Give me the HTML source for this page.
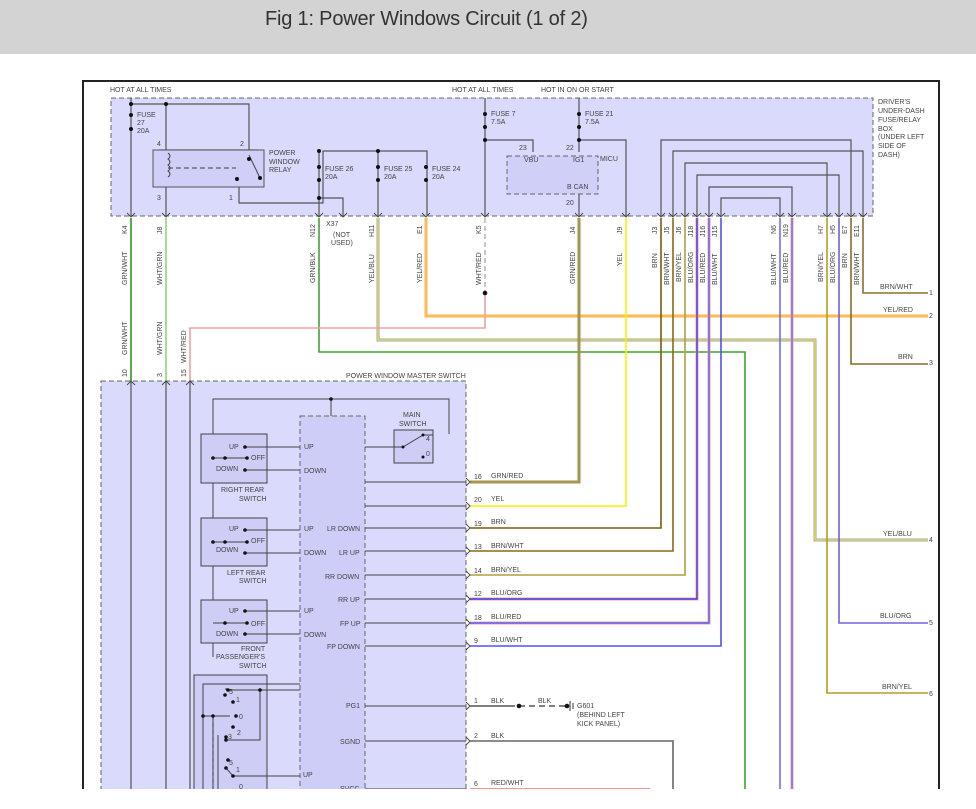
<!DOCTYPE html>
<html><head><meta charset="utf-8"><style>
html,body{margin:0;padding:0;background:#fff;width:976px;height:809px;overflow:hidden}
.hdr{position:absolute;left:0;top:0;width:976px;height:54px;background:#d3d3d3}
.ttl{position:absolute;left:265px;top:8px;font:20px "Liberation Sans",sans-serif;color:#333;letter-spacing:-0.2px}
svg{position:absolute;left:0;top:0}
text{font-family:"Liberation Sans",sans-serif;font-size:7px;fill:#444}
</style></head><body>
<div class="hdr"></div><div class="ttl">Fig 1: Power Windows Circuit (1 of 2)</div>
<svg width="976" height="809" viewBox="0 0 976 809">
<defs><clipPath id="c"><rect x="0" y="0" width="976" height="789"/></clipPath></defs>
<g clip-path="url(#c)">
<rect x="83" y="81" width="856" height="760" fill="none" stroke="#222" stroke-width="2"/>
<rect x="111" y="98" width="762" height="118" fill="#dadafc" stroke="#666" stroke-dasharray="5,3"/>
<text x="110" y="92">HOT AT ALL TIMES</text>
<text x="452" y="92">HOT AT ALL TIMES</text>
<text x="541" y="92">HOT IN ON OR START</text>
<g>
<text x="878" y="104">DRIVER'S</text><text x="878" y="113">UNDER-DASH</text><text x="878" y="122">FUSE/RELAY</text><text x="878" y="131">BOX</text><text x="878" y="139">(UNDER LEFT</text><text x="878" y="148">SIDE OF</text><text x="878" y="157">DASH)</text>
</g>
<g stroke="#555" fill="none" stroke-width="1.2">
<path d="M131 98V216M131 104H249V150M166 104V150M166 187V216"/>
<path d="M159 150h98M239 187v16h84V151h104v65M319 151v65M319 198h24v18M378 151v65"/>
<path d="M485 98V216M485 140h48v12M579 98V152M579 140h47v76M579 194v22"/>
<path d="M661 216V140H851V216M673 216V151H863V216M685 216V163H827V216M697 216V175H839V216M709 216V187H792V216M721 216V198H780V216"/>
</g>
<rect x="153" y="150" width="111" height="37" fill="#cfcff8" stroke="#555"/>
<path d="M168 168 H236" stroke="#444" stroke-dasharray="5,3" fill="none"/>
<path d="M168 153 q4 3 0 6 q4 3 0 6 q4 3 0 6 q4 3 0 6" stroke="#444" fill="none"/>
<path d="M249 155 L260 178" stroke="#444"/>
<g fill="#111"><circle cx="131" cy="104" r="2"/><circle cx="166" cy="104" r="2"/><circle cx="249" cy="159" r="2"/><circle cx="260" cy="178" r="2"/><circle cx="237" cy="179" r="2"/><circle cx="319" cy="151" r="2"/><circle cx="378" cy="151" r="2"/><circle cx="319" cy="198" r="2"/><circle cx="485" cy="140" r="2"/><circle cx="579" cy="140" r="2"/><circle cx="131" cy="115" r="2"/><circle cx="131" cy="129" r="2"/><circle cx="485" cy="114" r="2"/><circle cx="485" cy="127" r="2"/><circle cx="579" cy="114" r="2"/><circle cx="579" cy="127" r="2"/><circle cx="319" cy="167" r="2"/><circle cx="319" cy="180" r="2"/><circle cx="378" cy="167" r="2"/><circle cx="378" cy="180" r="2"/><circle cx="426" cy="167" r="2"/><circle cx="426" cy="180" r="2"/></g>
<text x="137" y="117">FUSE</text><text x="137" y="125">27</text><text x="137" y="133">20A</text>
<text x="157" y="146">4</text><text x="240" y="146">2</text><text x="157" y="200">3</text><text x="229" y="200">1</text>
<text x="269" y="155">POWER</text><text x="269" y="164">WINDOW</text><text x="269" y="172">RELAY</text>
<text x="325" y="171">FUSE 26</text><text x="325" y="179">20A</text>
<text x="384" y="171">FUSE 25</text><text x="384" y="179">20A</text>
<text x="432" y="171">FUSE 24</text><text x="432" y="179">20A</text>
<text x="491" y="116">FUSE 7</text><text x="491" y="124">7.5A</text>
<text x="585" y="116">FUSE 21</text><text x="585" y="124">7.5A</text>
<rect x="507" y="156" width="91" height="38" fill="#cfcff8" stroke="#666" stroke-dasharray="5,3"/>
<text x="519" y="150">23</text><text x="566" y="150">22</text><text x="524" y="162">VBU</text><text x="573" y="162">IG1</text><text x="600" y="161">MICU</text><text x="567" y="189">B CAN</text><text x="566" y="205">20</text>
<text x="326" y="226">X37</text><text x="333" y="237">(NOT</text><text x="331" y="245">USED)</text>
<g>
<text transform="translate(127,234) rotate(-90)">K4</text>
<text transform="translate(162,234) rotate(-90)">J8</text>
<text transform="translate(315,237) rotate(-90)">N12</text>
<text transform="translate(374,237) rotate(-90)">H11</text>
<text transform="translate(422,234) rotate(-90)">E1</text>
<text transform="translate(481,234) rotate(-90)">K5</text>
<text transform="translate(575,234) rotate(-90)">J4</text>
<text transform="translate(622,234) rotate(-90)">J9</text>
<text transform="translate(657,234) rotate(-90)">J3</text>
<text transform="translate(669,234) rotate(-90)">J5</text>
<text transform="translate(681,234) rotate(-90)">J6</text>
<text transform="translate(693,237) rotate(-90)">J18</text>
<text transform="translate(705,237) rotate(-90)">J16</text>
<text transform="translate(717,237) rotate(-90)">J15</text>
<text transform="translate(776,234) rotate(-90)">N6</text>
<text transform="translate(788,237) rotate(-90)">N19</text>
<text transform="translate(823,234) rotate(-90)">H7</text>
<text transform="translate(835,234) rotate(-90)">H5</text>
<text transform="translate(847,234) rotate(-90)">E7</text>
<text transform="translate(859,237) rotate(-90)">E11</text>
<text transform="translate(127,285) rotate(-90)">GRN/WHT</text>
<text transform="translate(162,285) rotate(-90)">WHT/GRN</text>
<text transform="translate(315,283) rotate(-90)">GRN/BLK</text>
<text transform="translate(374,283) rotate(-90)">YEL/BLU</text>
<text transform="translate(422,283) rotate(-90)">YEL/RED</text>
<text transform="translate(481,285) rotate(-90)">WHT/RED</text>
<text transform="translate(575,284) rotate(-90)">GRN/RED</text>
<text transform="translate(622,266) rotate(-90)">YEL</text>
<text transform="translate(657,268) rotate(-90)">BRN</text>
<text transform="translate(669,285) rotate(-90)">BRN/WHT</text>
<text transform="translate(681,282) rotate(-90)">BRN/YEL</text>
<text transform="translate(693,283) rotate(-90)">BLU/ORG</text>
<text transform="translate(705,283) rotate(-90)">BLU/RED</text>
<text transform="translate(717,285) rotate(-90)">BLU/WHT</text>
<text transform="translate(776,285) rotate(-90)">BLU/WHT</text>
<text transform="translate(788,283) rotate(-90)">BLU/RED</text>
<text transform="translate(823,282) rotate(-90)">BRN/YEL</text>
<text transform="translate(835,283) rotate(-90)">BLU/ORG</text>
<text transform="translate(847,268) rotate(-90)">BRN</text>
<text transform="translate(859,285) rotate(-90)">BRN/WHT</text>
<text transform="translate(127,355) rotate(-90)">GRN/WHT</text>
<text transform="translate(162,355) rotate(-90)">WHT/GRN</text>
<text transform="translate(186,363) rotate(-90)">WHT/RED</text>
<text transform="translate(127,377) rotate(-90)">10</text>
<text transform="translate(162,377) rotate(-90)">3</text>
<text transform="translate(186,377) rotate(-90)">15</text>
</g>
<g fill="none" stroke-width="1.6">
<path d="M131 218V382" stroke="#2a9a1a"/>
<path d="M166 218V382" stroke="#8fd47e"/>
<path d="M319 218V352H745V790" stroke="#3aa82a"/>
<path d="M378 218V340H815V540H928" stroke="#9a9aea" stroke-width="3"/>
<path d="M378 218V340H815V540H928" stroke="#f0f000" stroke-width="1.3"/>
<path d="M426 218V316H928" stroke="#f5a0a0" stroke-width="3"/>
<path d="M426 218V316H928" stroke="#ffd000" stroke-width="1.4"/>
<path d="M485 218V293" stroke="#bbb" stroke-dasharray="5,3"/>
<path d="M485 293V328H190V382" stroke="#f4a0a0"/>
<path d="M579 218V482H470" stroke="#e07050" stroke-width="3"/>
<path d="M579 218V482H470" stroke="#6ab84a" stroke-width="1.4"/>
<path d="M626 218V506H470" stroke="#f4f400"/>
<path d="M661 218V528H470" stroke="#7a5a10"/>
<path d="M673 218V551H470" stroke="#8a6a10"/>
<path d="M685 218V575H470" stroke="#b0a040"/>
<path d="M697 218V599H470" stroke="#f0a0a0" stroke-width="3"/>
<path d="M697 218V599H470" stroke="#4040e0" stroke-width="1.4"/>
<path d="M709 218V623H470" stroke="#f0a0a0" stroke-width="3"/>
<path d="M709 218V623H470" stroke="#6060f0" stroke-width="1.4"/>
<path d="M721 218V646H470" stroke="#5050f0"/>
<path d="M780 218V790" stroke="#7070f0"/>
<path d="M792 218V790" stroke="#f0a0a0" stroke-width="3"/>
<path d="M792 218V790" stroke="#7070f0" stroke-width="1.4"/>
<path d="M827 218V693H928" stroke="#b0a020"/>
<path d="M839 218V623H928" stroke="#7060e0"/>
<path d="M851 218V364H928" stroke="#8a6a20"/>
<path d="M863 218V293H928" stroke="#8a7030"/>
<path d="M470 706H515" stroke="#555"/>
<path d="M519 706H568" stroke="#555" stroke-dasharray="6,4"/>
<path d="M470 741H673V790" stroke="#666"/>
<path d="M470 789H650" stroke="#f07070"/>
</g>
<circle cx="485" cy="293" r="2.3" fill="#111"/>
<circle cx="519" cy="706" r="2.3" fill="#111"/><circle cx="567" cy="706" r="2.3" fill="#111"/>
<path d="M570 701v10M573 703v6" stroke="#333"/>
<text x="577" y="708">G601</text><text x="577" y="717">(BEHIND LEFT</text><text x="577" y="726">KICK PANEL)</text>
<text x="538" y="703">BLK</text>
<g>
<text x="880" y="289">BRN/WHT</text><text x="929" y="295">1</text>
<text x="883" y="312">YEL/RED</text><text x="929" y="318">2</text>
<text x="898" y="359">BRN</text><text x="929" y="365">3</text>
<text x="883" y="536">YEL/BLU</text><text x="929" y="542">4</text>
<text x="880" y="618">BLU/ORG</text><text x="929" y="625">5</text>
<text x="882" y="689">BRN/YEL</text><text x="929" y="696">6</text>
</g>
<rect x="101" y="381" width="365" height="420" fill="#dadafc" stroke="#666" stroke-dasharray="5,3"/>
<text x="346" y="378">POWER WINDOW MASTER SWITCH</text>
<g stroke="#555" fill="none" stroke-width="1.2">
<path d="M131 382V790M166 382V790M190 382V790"/>
</g>
<rect x="300" y="416" width="65" height="380" fill="#cdcdf7" stroke="#666" stroke-dasharray="5,3"/>
<g stroke="#444" fill="none" stroke-width="1">
<path d="M213 657V399H449V434M331 399V416"/>
<rect x="201" y="434" width="66" height="49" fill="#cdcdf6"/>
<rect x="201" y="518" width="66" height="48" fill="#cdcdf6"/>
<rect x="201" y="600" width="66" height="43" fill="#cdcdf6"/>
<rect x="194" y="675" width="73" height="120" fill="#cdcdf6"/>
<rect x="394" y="430" width="39" height="33" fill="#cdcdf6"/>
<path d="M245 447H300M245 470H300M213 458H247M245 530H300M245 553H300M213 542H247M245 611H300M245 634H300M213 623H247"/>
<path d="M365 447H403L423 435H433V433"/>
<path d="M203 790V684H300M226 690H300M226 690V688M260 690V740H226M203 716H230M213 716V790M218 735V790"/>
<path d="M226 768L233 776H300"/>
<path d="M365 482H466M365 506H466M365 528H466M365 551H466M365 575H466M365 599H466M365 623H466M365 646H466M365 706H466M365 741H466M365 789H466"/>
</g>
<path d="M213 716V790" stroke="#333" stroke-dasharray="4,3"/>
<g fill="#111">
<circle cx="245" cy="447" r="1.8"/><circle cx="245" cy="470" r="1.8"/><circle cx="247" cy="458" r="1.8"/><circle cx="213" cy="458" r="1.8"/><circle cx="225" cy="458" r="1.8"/>
<circle cx="245" cy="530" r="1.8"/><circle cx="245" cy="553" r="1.8"/><circle cx="247" cy="542" r="1.8"/><circle cx="213" cy="542" r="1.8"/><circle cx="225" cy="542" r="1.8"/>
<circle cx="245" cy="611" r="1.8"/><circle cx="245" cy="634" r="1.8"/><circle cx="247" cy="623" r="1.8"/><circle cx="225" cy="623" r="1.8"/>
<circle cx="331" cy="399" r="1.8"/><circle cx="403" cy="447" r="1.5"/><circle cx="423" cy="435" r="1.5"/><circle cx="423" cy="457" r="1.5"/>
<circle cx="228" cy="690" r="1.8"/><circle cx="225" cy="695" r="1.8"/><circle cx="233" cy="702" r="1.8"/><circle cx="260" cy="690" r="1.8"/>
<circle cx="203" cy="716" r="1.8"/><circle cx="213" cy="716" r="1.8"/><circle cx="236" cy="716" r="1.8"/>
<circle cx="233" cy="727" r="1.8"/><circle cx="226" cy="737" r="1.8"/><circle cx="226" cy="740" r="1.8"/>
<circle cx="228" cy="760" r="1.8"/><circle cx="226" cy="768" r="1.8"/><circle cx="233" cy="776" r="1.8"/>
</g>
<g>
<text x="229" y="449">UP</text><text x="251" y="460">OFF</text><text x="216" y="471">DOWN</text><text x="221" y="492">RIGHT REAR</text><text x="239" y="501">SWITCH</text>
<text x="229" y="531">UP</text><text x="251" y="543">OFF</text><text x="216" y="552">DOWN</text><text x="227" y="575">LEFT REAR</text><text x="239" y="583">SWITCH</text>
<text x="229" y="613">UP</text><text x="251" y="626">OFF</text><text x="216" y="636">DOWN</text><text x="241" y="651">FRONT</text><text x="216" y="659">PASSENGER'S</text><text x="239" y="668">SWITCH</text>
<text x="304" y="449">UP</text><text x="304" y="473">DOWN</text>
<text x="304" y="531">UP</text><text x="304" y="555">DOWN</text><text x="304" y="613">UP</text><text x="304" y="637">DOWN</text><text x="303" y="777">UP</text>
<text x="327" y="531">LR DOWN</text><text x="339" y="555">LR UP</text><text x="325" y="579">RR DOWN</text><text x="338" y="602">RR UP</text><text x="340" y="626">FP UP</text><text x="327" y="649">FP DOWN</text><text x="346" y="708">PG1</text><text x="340" y="744">SGND</text><text x="340" y="791">SVCC</text>
<text x="403" y="417">MAIN</text><text x="399" y="426">SWITCH</text><text x="426" y="441">4</text><text x="426" y="456">0</text>
<text x="229" y="694">5</text><text x="236" y="702">1</text><text x="239" y="719">0</text><text x="237" y="735">2</text><text x="228" y="739">3</text><text x="229" y="765">5</text><text x="236" y="772">1</text><text x="239" y="789">0</text>
</g>
<g>
<text x="474" y="479">16</text><text x="491" y="478">GRN/RED</text>
<text x="474" y="502">20</text><text x="491" y="501">YEL</text>
<text x="474" y="526">19</text><text x="491" y="524">BRN</text>
<text x="474" y="549">13</text><text x="491" y="548">BRN/WHT</text>
<text x="474" y="573">14</text><text x="491" y="572">BRN/YEL</text>
<text x="474" y="596">12</text><text x="491" y="595">BLU/ORG</text>
<text x="474" y="620">18</text><text x="491" y="619">BLU/RED</text>
<text x="474" y="643">9</text><text x="491" y="642">BLU/WHT</text>
<text x="474" y="703">1</text><text x="491" y="703">BLK</text>
<text x="474" y="738">2</text><text x="491" y="738">BLK</text>
<text x="474" y="786">6</text><text x="491" y="785">RED/WHT</text>
</g>
<g stroke="#444" fill="none" stroke-width="0.9">
<path d="M466 478l4 4-4 4M466 502l4 4-4 4M466 524l4 4-4 4M466 547l4 4-4 4M466 571l4 4-4 4M466 595l4 4-4 4M466 619l4 4-4 4M466 642l4 4-4 4M466 702l4 4-4 4M466 737l4 4-4 4"/>
<path d="M127 213l4 4 4-4M162 213l4 4 4-4M315 213l4 4 4-4M339 213l4 4 4-4M374 213l4 4 4-4M422 213l4 4 4-4M481 213l4 4 4-4M575 213l4 4 4-4M622 213l4 4 4-4M657 213l4 4 4-4M669 213l4 4 4-4M681 213l4 4 4-4M693 213l4 4 4-4M705 213l4 4 4-4M717 213l4 4 4-4M776 213l4 4 4-4M788 213l4 4 4-4M823 213l4 4 4-4M835 213l4 4 4-4M847 213l4 4 4-4M859 213l4 4 4-4"/>
<path d="M127 385l4-4 4 4M162 385l4-4 4 4M186 385l4-4 4 4"/>
</g>
</g>
</svg>
</body></html>
